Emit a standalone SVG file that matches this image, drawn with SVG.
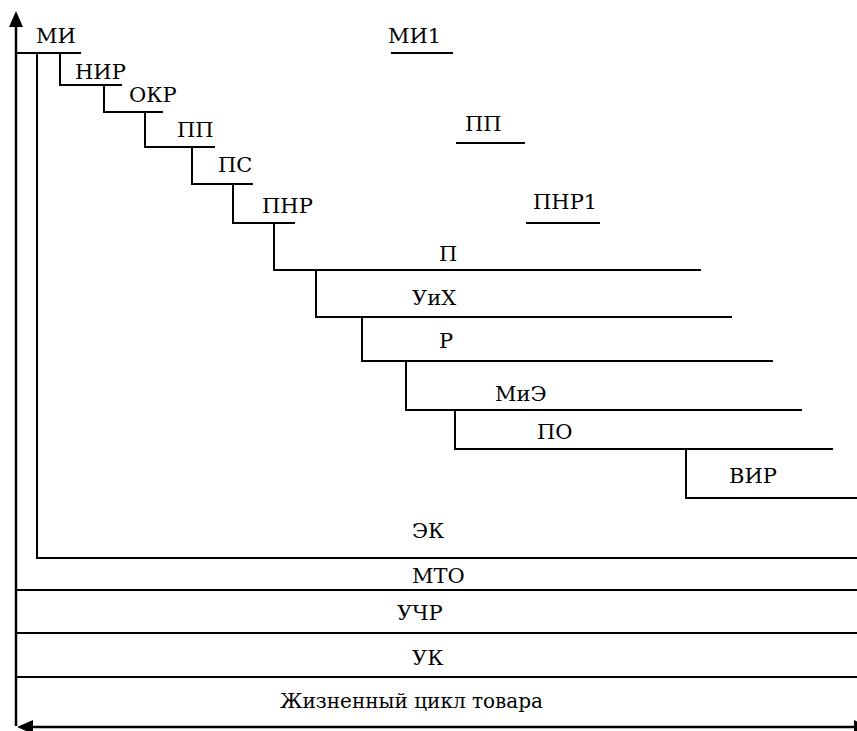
<svg xmlns="http://www.w3.org/2000/svg" width="857" height="731" viewBox="0 0 857 731">
<style>
  .ln { stroke: #000; stroke-width: 2; fill: none; }
  .ax { stroke: #000; stroke-width: 2.5; fill: none; }
  .ah { fill: #000; stroke: none; }
  text { font-family: "DejaVu Serif", "Liberation Serif", serif; font-size: 21px; fill: #000; }
</style>
<rect width="857" height="731" fill="#fff"/>
<g id="connectors">
  <line class="ax" x1="16" y1="726" x2="16" y2="22"/>
  <polygon class="ah" points="16,11 9,27 23,27"/>
  <line class="ax" x1="28" y1="727" x2="857" y2="727"/>
  <polygon class="ah" points="17,727 33,720 33,734"/>
  <polygon class="ah" points="854,720 868,727 854,734"/>
  <polyline class="ln" points="16,53 81,53"/>
  <polyline class="ln" points="37,53 37,558 857,558"/>
  <polyline class="ln" points="60,53 60,85 122,85"/>
  <polyline class="ln" points="104,85 104,112 163,112"/>
  <polyline class="ln" points="145,112 145,147 215,147"/>
  <polyline class="ln" points="192,147 192,184 253,184"/>
  <polyline class="ln" points="233,184 233,223 295,223"/>
  <polyline class="ln" points="274,223 274,270 701,270"/>
  <polyline class="ln" points="316,270 316,317 732,317"/>
  <polyline class="ln" points="362,317 362,361 773,361"/>
  <polyline class="ln" points="406,361 406,410 802,410"/>
  <polyline class="ln" points="455,410 455,449 833,449"/>
  <polyline class="ln" points="686,449 686,498 857,498"/>
  <line class="ln" x1="16" y1="590" x2="857" y2="590"/>
  <line class="ln" x1="16" y1="633" x2="857" y2="633"/>
  <line class="ln" x1="16" y1="677" x2="857" y2="677"/>
  <line class="ln" x1="391" y1="53" x2="453" y2="53"/>
  <line class="ln" x1="456" y1="143" x2="525" y2="143"/>
  <line class="ln" x1="526" y1="223" x2="600" y2="223"/>
</g>
<g id="n-mi"><text x="36" y="43">МИ</text></g>
<g id="n-nir"><text x="75" y="79">НИР</text></g>
<g id="n-okr"><text x="129" y="102">ОКР</text></g>
<g id="n-pp"><text x="177" y="137">ПП</text></g>
<g id="n-ps"><text x="218" y="172">ПС</text></g>
<g id="n-pnr"><text x="262" y="213">ПНР</text></g>
<g id="n-mi1"><text x="388" y="43">МИ1</text></g>
<g id="n-pp2"><text x="465" y="131">ПП</text></g>
<g id="n-pnr1"><text x="533" y="209">ПНР1</text></g>
<g id="n-p"><text x="439" y="261">П</text></g>
<g id="n-uih"><text x="412" y="305">УиХ</text></g>
<g id="n-r"><text x="439" y="348">Р</text></g>
<g id="n-mie"><text x="495" y="401">МиЭ</text></g>
<g id="n-po"><text x="537" y="439">ПО</text></g>
<g id="n-vir"><text x="729" y="483">ВИР</text></g>
<g id="n-ek"><text x="412" y="538">ЭК</text></g>
<g id="n-mto"><text x="412" y="583">МТО</text></g>
<g id="n-uchr"><text x="397" y="620">УЧР</text></g>
<g id="n-uk"><text x="412" y="665">УК</text></g>
<g id="n-zhct"><text x="280" y="708" textLength="263" lengthAdjust="spacingAndGlyphs">Жизненный цикл товара</text></g>
</svg>
